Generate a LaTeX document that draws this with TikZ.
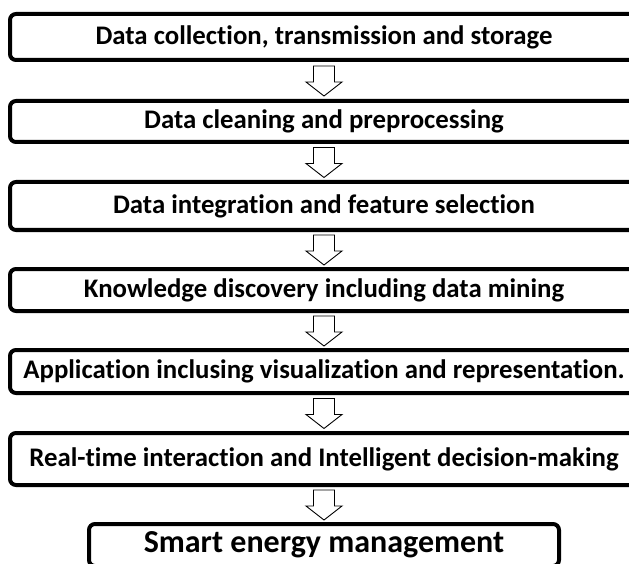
\documentclass[tikz,border=0pt]{standalone}
\usepackage{fontspec}
\setmainfont[Ligatures={NoCommon,NoRequired,NoContextual}]{Carlito}
\usetikzlibrary{calc}
\begin{document}
\begin{tikzpicture}[x=1pt,y=-1pt,
  stage/.style={draw=black, line width=4pt, rounded corners=6pt, fill=white,
    inner sep=0pt, text=black, minimum width=628pt,
    font=\fontsize{26.8}{30}\selectfont\bfseries},
  flowarrow/.style={draw=black, line width=0.9pt, fill=white, line join=miter}]
\useasboundingbox (0,0) rectangle (629,564);
\fill[white] (0,0) rectangle (629,564);
\clip (0,0) rectangle (629,564);

\node[stage, minimum height=46pt] (s1) at (324,37)    {Data collection, transmission and storage};
\node[stage, minimum height=41pt] (s2) at (324,121.5) {Data cleaning and preprocessing};
\node[stage, minimum height=48pt] (s3) at (324,206)   {Data integration and feature selection};
\node[stage, minimum height=42pt] (s4) at (324,290)   {Knowledge discovery including data mining};
\node[stage, minimum height=43pt] (s5) at (324,371.5) {Application inclusing visualization and representation.};
\node[stage, minimum height=52pt] (s6) at (324,459)   {Real-time interaction and Intelligent decision-making};
\node[stage, minimum height=42pt, minimum width=470pt,
      font=\fontsize{32}{36}\selectfont\bfseries] (s7) at (324,545) {Smart energy management};

% hollow block arrows between consecutive stages
\foreach \a/\b in {s1/s2,s2/s3,s3/s4,s4/s5,s5/s6,s6/s7}
  \draw[flowarrow] let \p1=($(\a.south)!0.5!(\b.north)$) in
    (\x1-10.5pt,\y1+14.5pt) -- (\x1+10.5pt,\y1+14.5pt) -- (\x1+10.5pt,\y1-1.5pt)
    -- (\x1+18pt,\y1-1.5pt) -- (\x1,\y1-15.5pt) -- (\x1-18pt,\y1-1.5pt)
    -- (\x1-10.5pt,\y1-1.5pt) -- cycle;
\end{tikzpicture}
\end{document}
